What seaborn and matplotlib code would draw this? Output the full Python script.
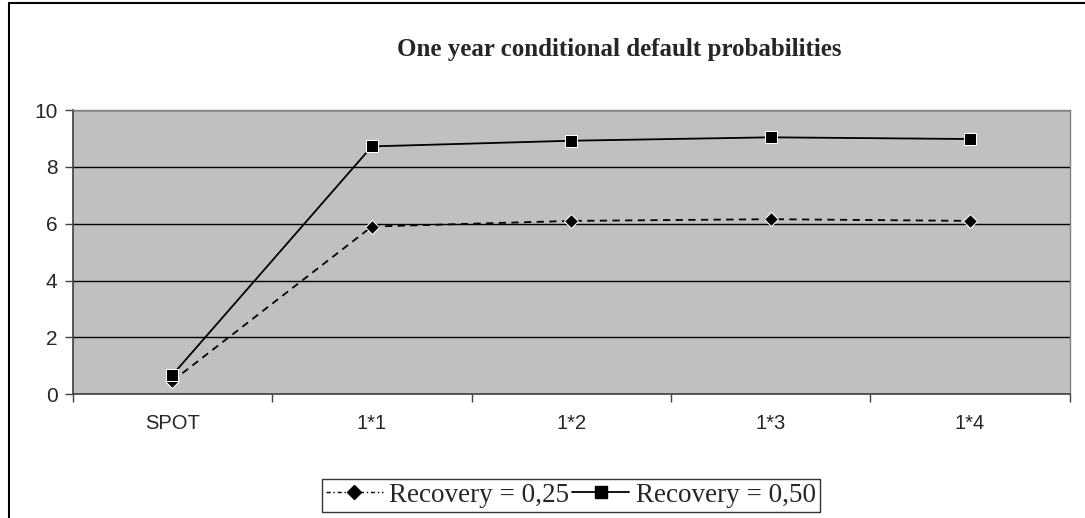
import matplotlib
matplotlib.use("Agg")
import matplotlib.pyplot as plt
import seaborn as sns
import pandas as pd
from matplotlib.lines import Line2D

categories = ["SPOT", "1*1", "1*2", "1*3", "1*4"]
rec_025 = [0.47, 5.9, 6.1, 6.16, 6.1]
rec_050 = [0.68, 8.72, 8.92, 9.04, 8.98]
series_names = ["Recovery = 0,25", "Recovery = 0,50"]
y_ticks = [0, 2, 4, 6, 8, 10]
title = "One year conditional default probabilities"

df = pd.DataFrame({
    "cat": categories * 2,
    "value": rec_025 + rec_050,
    "series": [series_names[0]] * len(categories) + [series_names[1]] * len(categories),
})

sns.set_theme(style="white")
plt.rcParams["font.family"] = ["Liberation Sans", "DejaVu Sans"]

fig = plt.figure(figsize=(10.85, 5.18), dpi=100)
ax = fig.add_axes([0.067, 0.2388, 0.919, 0.5488])
ax.set_facecolor("#C0C0C0")

sns.lineplot(
    data=df, x="cat", y="value", hue="series", style="series",
    palette=["black", "black"],
    dashes={series_names[0]: (4, 3), series_names[1]: ""},
    markers={series_names[0]: "D", series_names[1]: "s"},
    markersize=9, linewidth=1.3, ax=ax, legend=False, sort=False,
)
for ln in ax.lines:
    if ln.get_marker() == "D":
        ln.set_markersize(7.5)

ax.set_xlim(-0.5, len(categories) - 0.5)
ax.set_ylim(0, 10)
ax.set_yticks(y_ticks)
ax.yaxis.grid(True, color="black", linewidth=1.0)
ax.set_axisbelow(True)
ax.set_xlabel("")
ax.set_ylabel("")

ax.set_xticks(range(len(categories)))
ax.set_xticklabels(categories, fontsize=14.5)
ax.tick_params(axis="x", which="major", length=0, pad=14)
ax.set_xticks([i - 0.5 for i in range(len(categories) + 1)], minor=True)
ax.tick_params(axis="x", which="minor", length=6, width=1, color="#404040", direction="out")
ax.tick_params(axis="y", length=6, width=1, color="#404040", direction="out", labelsize=15, pad=5)
ax.xaxis.set_ticks_position("bottom")
ax.yaxis.set_ticks_position("left")

for side in ["top", "right"]:
    ax.spines[side].set_color("#808080")
    ax.spines[side].set_linewidth(1)
for side in ["left", "bottom"]:
    ax.spines[side].set_color("#404040")
    ax.spines[side].set_linewidth(1.2)

fig.text(0.571, 0.905, title, ha="center", va="center", fontsize=18,
         fontweight="bold", family=["Liberation Serif", "DejaVu Serif"])

handles = [
    Line2D([], [], color="black", linestyle=(0, (3, 2, 1, 2)), marker="D", markersize=7, linewidth=1),
    Line2D([], [], color="black", linestyle="-", marker="s", markersize=8, linewidth=1.3),
]
leg = fig.legend(handles, series_names, loc="center", bbox_to_anchor=(0.526, 0.0435),
                 ncol=2, frameon=True, fancybox=False, edgecolor="black",
                 prop={"family": ["Liberation Serif"], "size": 19.5},
                 handlelength=2.1, handletextpad=0.25, columnspacing=0.1,
                 borderpad=0.15, borderaxespad=0)
leg.get_frame().set_linewidth(1)

# figure border (top and left visible)
fig.add_artist(Line2D([0.0085, 0.0085], [0, 0.994], transform=fig.transFigure, color="black", linewidth=1.5))
fig.add_artist(Line2D([0.0085, 1.0], [0.994, 0.994], transform=fig.transFigure, color="black", linewidth=1.5))

fig.savefig("out.png", dpi=100, facecolor="white")
